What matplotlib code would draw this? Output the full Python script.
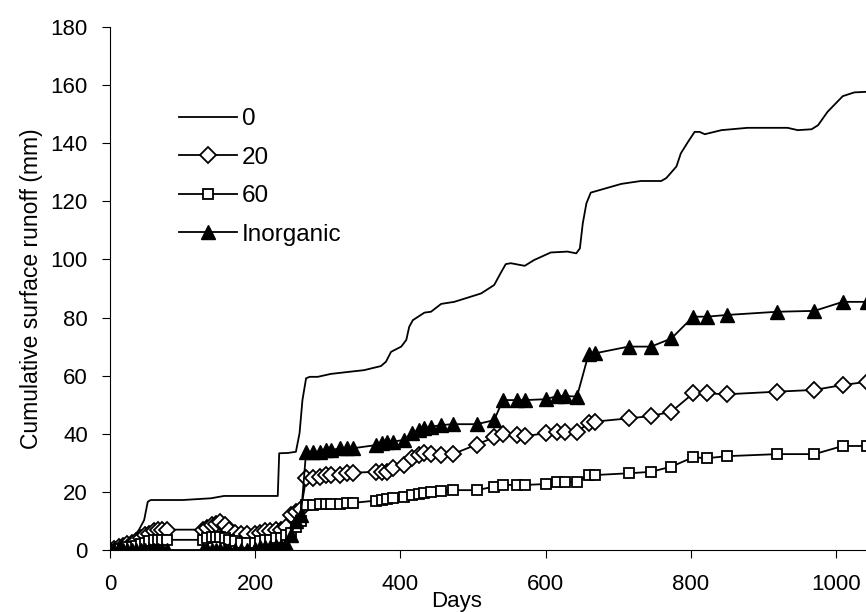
#!/usr/bin/env python3
"""
Cumulative surface runoff under four treatments (0, 20, 60, Inorganic).
Recreated as a plain black-and-white line chart with markers.
"""

import matplotlib
matplotlib.use("Agg")
import matplotlib.pyplot as plt

# ---- data ----
# treatment "0" is a line without markers
days_ctrl = [0, 20, 29, 40, 47, 52, 56, 100, 139, 157, 231, 233, 245, 256, 261,
             265, 270, 275, 286, 304, 332, 350, 373, 380, 387, 401, 408, 412,
             417, 433, 442, 456, 474, 497, 511, 529, 539, 545, 552, 571, 584,
             607, 630, 642, 647, 651, 656, 662, 676, 704, 731, 759, 766, 780,
             786, 796, 805, 812, 819, 842, 878, 933, 947, 966, 975, 988, 1009,
             1025, 1043, 1100]
runoff_ctrl = [0, 0.5, 3.4, 7, 10.3, 16.6, 17.2, 17.2, 17.8, 18.6, 18.6, 33.3,
               33.4, 33.8, 40.2, 51.6, 59.1, 59.6, 59.6, 60.6, 61.4, 61.9, 63.3,
               64.8, 68.2, 70, 72.3, 76.8, 79.1, 81.7, 82, 84.7, 85.4, 87.2,
               88.3, 91.2, 95.8, 98.4, 98.7, 97.8, 99.8, 102.4, 102.7, 102.1,
               103.8, 112.4, 119.3, 123, 124, 126, 127, 127, 128, 132, 136.5,
               140.5, 143.9, 143.9, 143.1, 144.5, 145.3, 145.3, 144.5, 144.8,
               146.2, 150.8, 156.2, 157.5, 157.7, 157.7]

# sampling dates shared by the three marked treatments
days_sampled = [0, 6, 12, 18, 24, 30, 36, 42, 48, 54, 60, 66, 72, 78,
                128, 134, 140, 146, 152, 158, 164, 172, 180, 188,
                200, 207, 214, 221, 228, 235, 242, 249, 256, 263,
                270, 279, 289, 298, 304, 317, 326, 334, 366, 374, 381, 390,
                405, 416, 426, 433, 442, 456, 472, 505, 529, 541, 561, 572,
                600, 616, 627, 643, 659, 668, 714, 745, 773, 803, 822, 850,
                919, 970, 1009, 1043, 1090]

runoff_20 = [0, 0.5, 1, 1.5, 2, 2.5, 3, 4, 5, 5.5, 6.5, 7, 7, 7,
             7, 7.5, 8.5, 9, 9.5, 8.5, 7, 6, 5.5, 5.5,
             5.5, 6, 6.5, 6.5, 7, 7, 8, 12, 13, 14,
             24.7, 24.7, 25.2, 25.8, 25.8, 25.8, 26.4, 26.6, 26.9, 26.9, 26.9, 28.1,
             29.2, 31.6, 32.7, 33.3, 33, 32.7, 33, 36.3, 38.8, 39.8, 39.5, 39.2,
             40.2, 40.7, 40.7, 40.7, 43.6, 44.2, 45.3, 46.1, 47.6, 53.9, 53.9, 53.6,
             54.5, 55.1, 56.8, 57.9, 58.2]

runoff_60 = [0, 0, 0.5, 0.5, 1, 1, 1.5, 2, 2.5, 3, 3.5, 3.5, 3.5, 3.5,
             3.5, 4, 4.5, 4.5, 4.5, 4, 3.5, 3, 2.5, 2.5,
             2.5, 3, 3.5, 3.5, 4, 4, 5, 6, 8, 10,
             15.5, 15.5, 15.8, 15.8, 16, 16, 16.2, 16.2, 17, 17.2, 17.5, 17.8,
             18.3, 18.8, 19.3, 19.6, 19.8, 20.2, 20.6, 20.6, 21.8, 22.4, 22.4, 22.4,
             22.7, 23.5, 23.5, 23.5, 25.8, 25.8, 26.4, 26.9, 28.7, 31.9, 31.6, 32.3,
             33, 33, 35.8, 35.8, 36]

runoff_inorg = [0, 0, 0, 0, 0, 0, 0, 0, 0, 0, 0, 0, 0, 0,
                0, 0, 0, 0, 0, 0, 0, 0, 0, 0,
                0.5, 1, 1, 1, 1.5, 1.5, 2, 5, 10, 12,
                33.8, 33.8, 33.8, 34.4, 34.4, 35, 35, 35, 36.1, 36.7, 37, 37.3,
                37.9, 40.2, 41.3, 41.9, 42.4, 43, 43.3, 43.3, 44.7, 51.6, 51.6, 51.6,
                51.9, 53, 53, 52.8, 67.4, 67.7, 70, 70, 72.8, 80.3, 80.3, 80.9,
                82, 82.3, 85.4, 85.4, 85.6]

legend_labels = ["0", "20", "60", "Inorganic"]
x_ticks = [0, 200, 400, 600, 800, 1000]
y_ticks = [0, 20, 40, 60, 80, 100, 120, 140, 160, 180]


def main():
    plt.rcParams['font.family'] = ['Liberation Sans', 'DejaVu Sans']

    fig = plt.figure(figsize=(8.66, 6.12), dpi=100)
    ax = fig.add_axes([110 / 866, 62 / 612, 1 - 110 / 866, 523 / 612])

    lw = 1.3
    ax.plot(days_ctrl, runoff_ctrl, color='black', lw=lw, label=legend_labels[0])
    ax.plot(days_sampled, runoff_20, color='black', lw=lw, marker='D', ms=8.5,
            mfc='white', mec='black', mew=1.3, label=legend_labels[1])
    ax.plot(days_sampled, runoff_60, color='black', lw=lw, marker='s', ms=7.5,
            mfc='white', mec='black', mew=1.3, label=legend_labels[2])
    ax.plot(days_sampled, runoff_inorg, color='black', lw=lw, marker='^', ms=10,
            mfc='black', mec='black', label=legend_labels[3])

    ax.set_xlim(0, 1041)
    ax.set_ylim(0, 180)
    ax.set_xticks(x_ticks)
    ax.set_yticks(y_ticks)
    ax.tick_params(axis='both', direction='out', length=6, width=0.8,
                   labelsize=16, colors='black')
    ax.tick_params(axis='x', pad=11)
    ax.tick_params(axis='y', pad=10)
    for side in ['top', 'right']:
        ax.spines[side].set_visible(False)
    for side in ['left', 'bottom']:
        ax.spines[side].set_linewidth(0.8)

    fig.text(32 / 866, 1 - 289 / 612, 'Cumulative surface runoff (mm)',
             rotation=90, ha='center', va='center', fontsize=16.5)
    fig.text(457 / 866, 1 - 607 / 612, 'Days', ha='center', va='baseline',
             fontsize=16)

    ax.legend(loc='upper left', bbox_to_anchor=(179 / 866, 1 - 108 / 612),
              bbox_transform=fig.transFigure, frameon=False, fontsize=17.5,
              handlelength=2.39, handletextpad=0.2, labelspacing=0.68,
              borderpad=0, borderaxespad=0)

    fig.savefig('out.png', dpi=100)


if __name__ == "__main__":
    main()
